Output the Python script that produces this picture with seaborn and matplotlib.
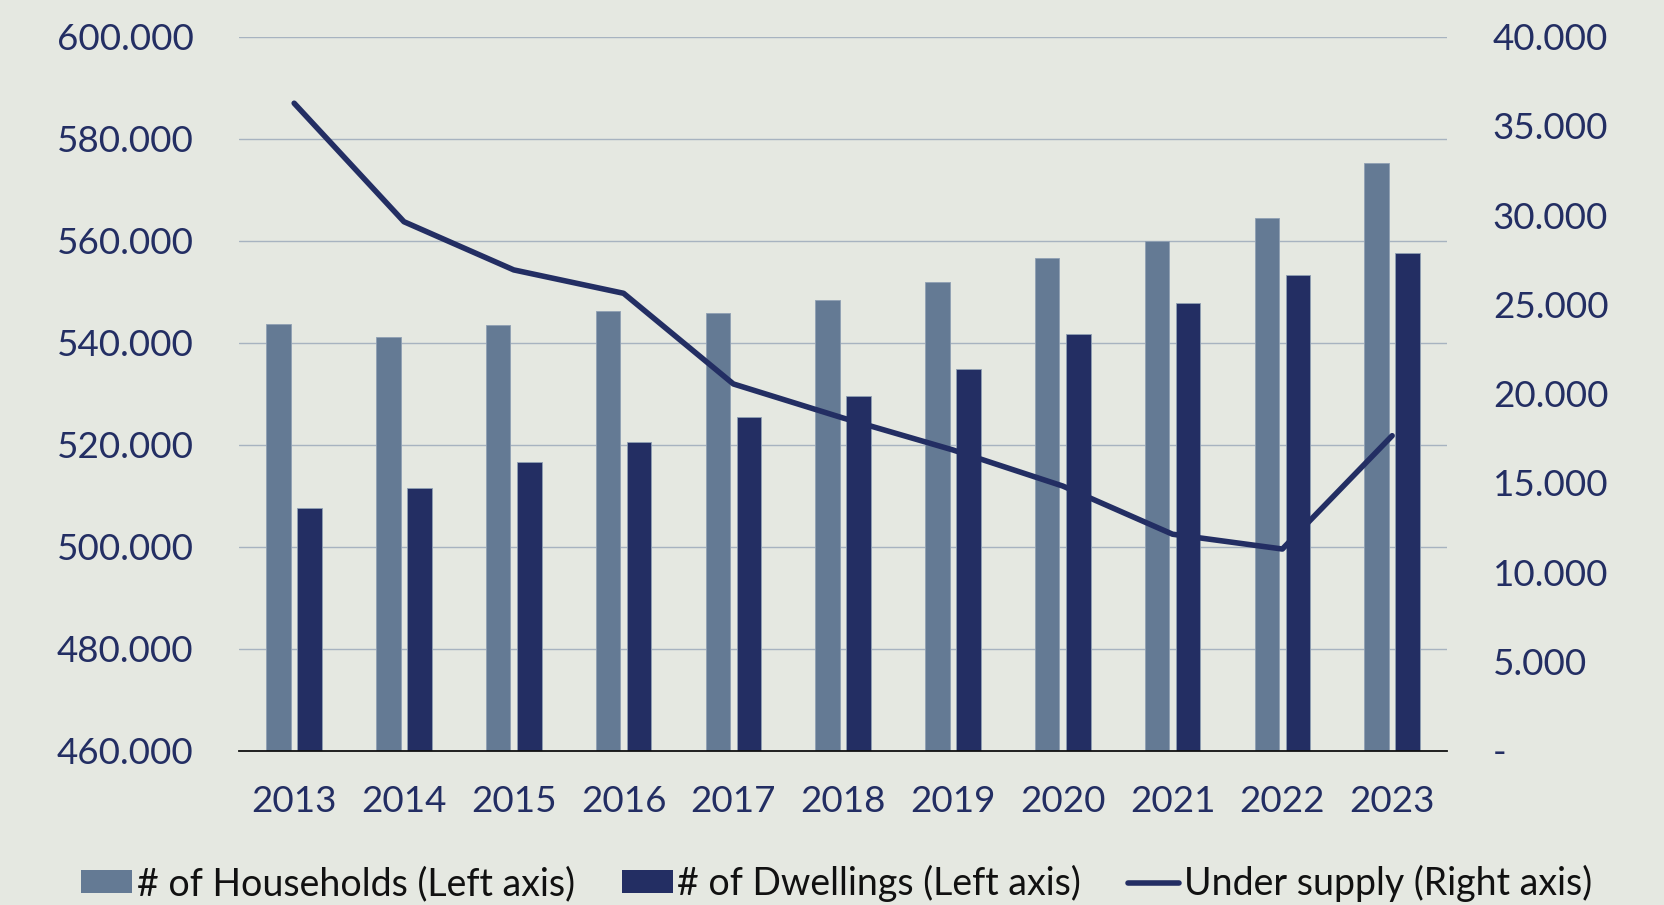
"""
Households vs. dwellings (left axis) with the resulting under supply (right axis).
"""

import matplotlib.pyplot as plt
import matplotlib.ticker as ticker
import numpy as np
import pandas as pd
import seaborn as sns
from matplotlib.lines import Line2D
from matplotlib.patches import Patch

sns.set_theme(style="white")
plt.rcParams["font.family"] = ["Lato", "DejaVu Sans"]

years = ["2013", "2014", "2015", "2016", "2017", "2018", "2019", "2020", "2021", "2022", "2023"]
households = [543600, 541100, 543400, 546100, 545800, 548400, 551900, 556600, 560000, 564500, 575200]
dwellings = [507500, 511500, 516500, 520600, 525400, 529600, 534900, 541600, 547700, 553200, 557600]
under_supply = [36270, 29630, 26930, 25620, 20540, 18630, 16840, 14820, 12120, 11290, 17640]

left_ticks = [460000, 480000, 500000, 520000, 540000, 560000, 580000, 600000]
right_ticks = [0, 5000, 10000, 15000, 20000, 25000, 30000, 35000, 40000]

series_names = ["# of Households (Left axis)", "# of Dwellings (Left axis)"]
line_name = "Under supply (Right axis)"

BG = "#E5E8E1"
C_HH = "#647A94"
C_DW = "#232E63"
C_TXT = "#232E63"
C_GRID = "#A7B3C0"
FS = 26.5

df = pd.DataFrame({
    "year": years * 2,
    "value": households + dwellings,
    "series": [series_names[0]] * len(years) + [series_names[1]] * len(years),
})
df_line = pd.DataFrame({"pos": np.arange(len(years)), "under": under_supply})

fig = plt.figure(figsize=(16.65, 9.05), dpi=100, facecolor=BG)
ax = fig.add_axes([0.1437, 0.1707, 0.7254, 0.7888])
ax.set_facecolor(BG)

sns.barplot(
    data=df, x="year", y="value", hue="series", order=years,
    palette=[C_HH, C_DW], saturation=1, width=0.566, gap=0.21, ax=ax,
    edgecolor="#8FA0B3", linewidth=0.6, legend=False,
)

ax.set_ylim(460000, 600000)
ax.set_xlim(-0.5, 10.5)
ax.set_yticks(left_ticks)
ax.yaxis.set_major_formatter(ticker.FuncFormatter(lambda v, p: f"{v:,.0f}".replace(",", ".")))
ax.grid(axis="y", color=C_GRID, linewidth=1.0)
ax.set_axisbelow(True)
ax.set_xlabel("")
ax.set_ylabel("")
for s in ["top", "left", "right"]:
    ax.spines[s].set_visible(False)
ax.spines["bottom"].set_color("#111111")
ax.spines["bottom"].set_linewidth(1.3)
ax.tick_params(axis="y", length=0, pad=33, labelsize=FS, labelcolor=C_TXT)
ax.tick_params(axis="x", length=0, pad=24.5, labelsize=FS, labelcolor=C_TXT)

ax2 = ax.twinx()
sns.lineplot(data=df_line, x="pos", y="under", color=C_DW, linewidth=4.0, ax=ax2)
ax2.set_ylim(0, 40000)
ax2.set_xlim(-0.5, 10.5)
ax2.set_yticks(right_ticks)
ax2.yaxis.set_major_formatter(
    ticker.FuncFormatter(lambda v, p: "-" if v == 0 else f"{v:,.0f}".replace(",", "."))
)
ax2.set_ylabel("")
ax2.set_xlabel("")
for s in ax2.spines.values():
    s.set_visible(False)
ax2.tick_params(axis="y", length=0, pad=33, labelsize=FS, labelcolor=C_TXT)

handles = [
    Patch(facecolor=C_HH, edgecolor="none"),
    Patch(facecolor=C_DW, edgecolor="none"),
    Line2D([0], [0], color=C_DW, linewidth=4.0),
]
fig.legend(
    handles, series_names + [line_name], loc="center", bbox_to_anchor=(0.5024, 0.024),
    ncol=3, frameon=False, fontsize=27, labelcolor="#111111",
    handlelength=1.36, handleheight=0.56, handletextpad=0.13, columnspacing=1.25,
)

fig.savefig("out.png", dpi=100, facecolor=BG)
